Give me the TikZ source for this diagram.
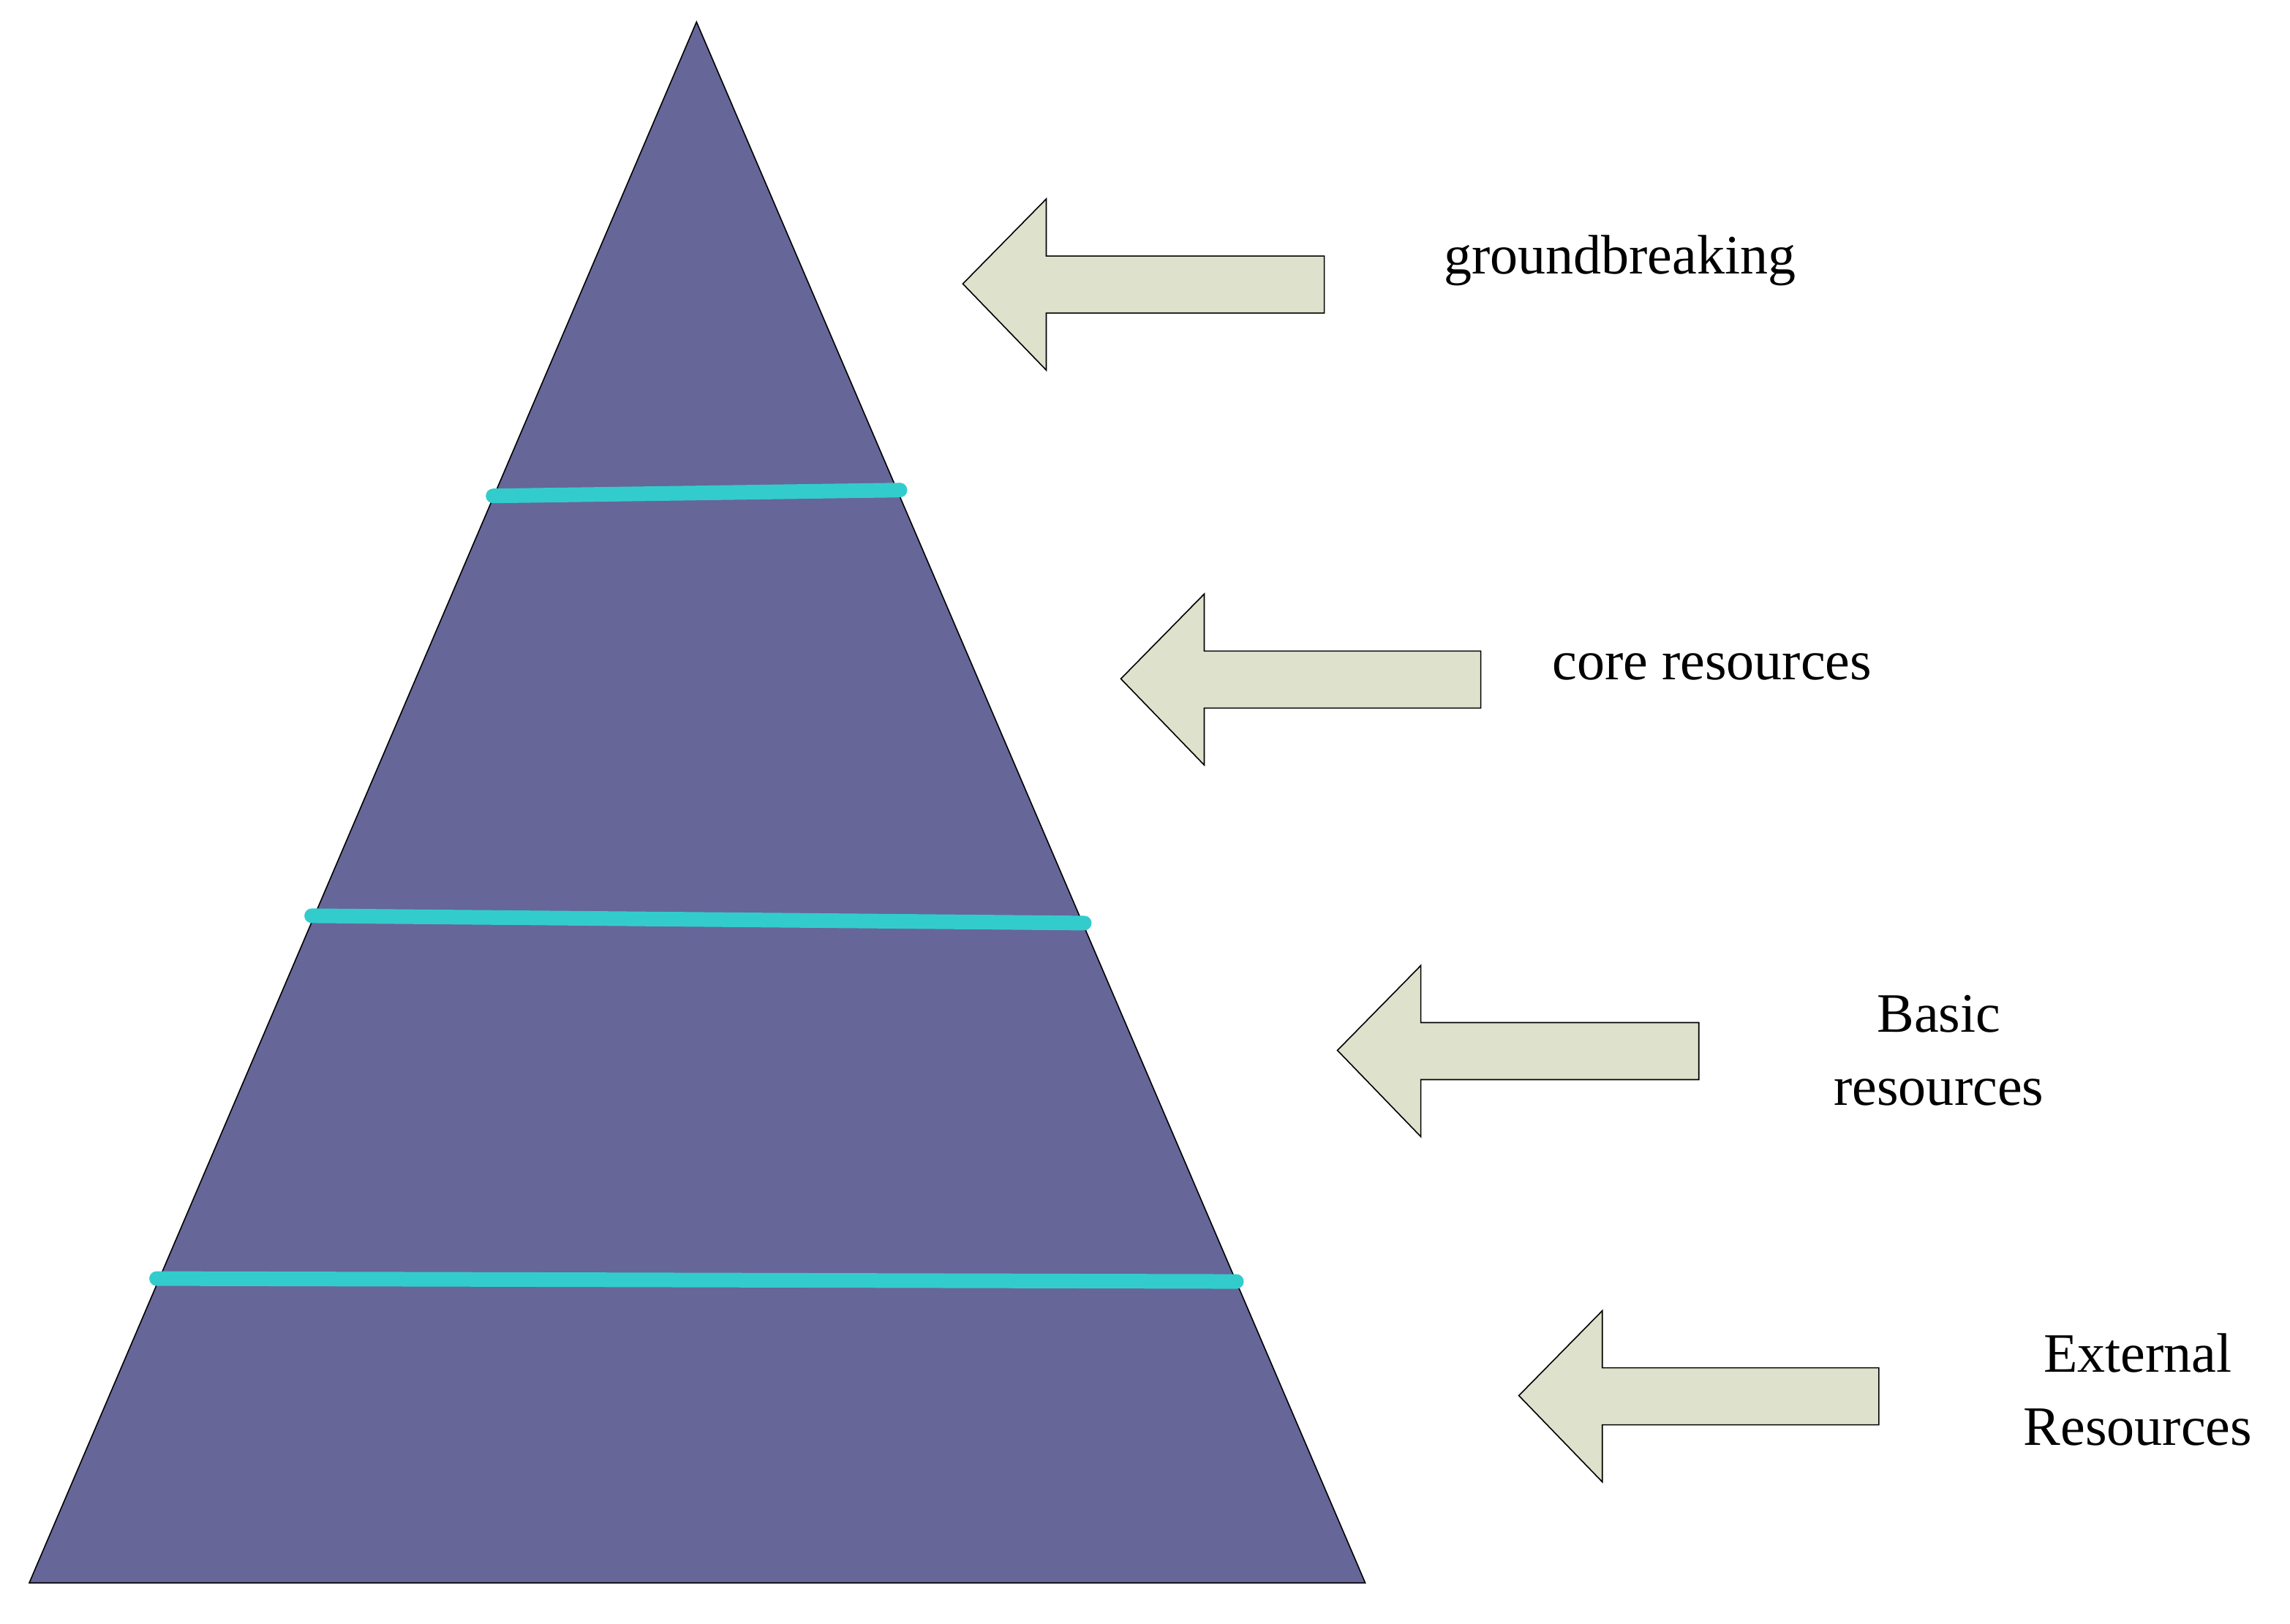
\documentclass[tikz,border=0pt]{standalone}
\usepackage{fontspec}
\setmainfont{Liberation Serif}
\definecolor{pyramid}{HTML}{666699}
\definecolor{band}{HTML}{33CCCC}
\definecolor{pointer}{HTML}{DEE1CB}
\begin{document}
\begin{tikzpicture}%
	[x=0.5pt, y=-0.5pt,
	pyramid/.style={fill=pyramid, draw=black, thin},
	band/.style={color=band, line width=5pt, line cap=round},
	pointer/.style={fill=pointer, draw=black, thin},
	label/.style={align=center, font=\fontsize{19}{25}\selectfont}]
%
\useasboundingbox (0,0) rectangle (1565,1110);
%
%% The pyramid
\fill[pyramid] (476,15) -- (933,1082) -- (20,1082) -- cycle;
%
%% The bands between the levels
\draw[band] (337,339) -- (615,335);
\draw[band] (213,626) -- (741,631);
\draw[band] (107,874) -- (845,876);
%
%% The arrows: tip x, tip y, tail x
\foreach \tx/\ty/\ex in {658/194/905, 766/464/1012, 914/718/1161, 1038/954/1284}
	\draw[pointer] (\tx,\ty) -- ++(57,-58) -- ++(0,39) -- (\ex,\ty-19)
		-- (\ex,\ty+20) -- (\tx+57,\ty+20) -- ++(0,39) -- cycle;
%
%% The labels
\node[label] (groundbreaking) at (1107,178) {groundbreaking};
\node[label] (core) at (1170,456) {core resources};
\node[label] (basic) at (1325,718) {Basic\\resources};
\node[label] (external) at (1461,950) {External\\Resources};
\end{tikzpicture}
\end{document}
